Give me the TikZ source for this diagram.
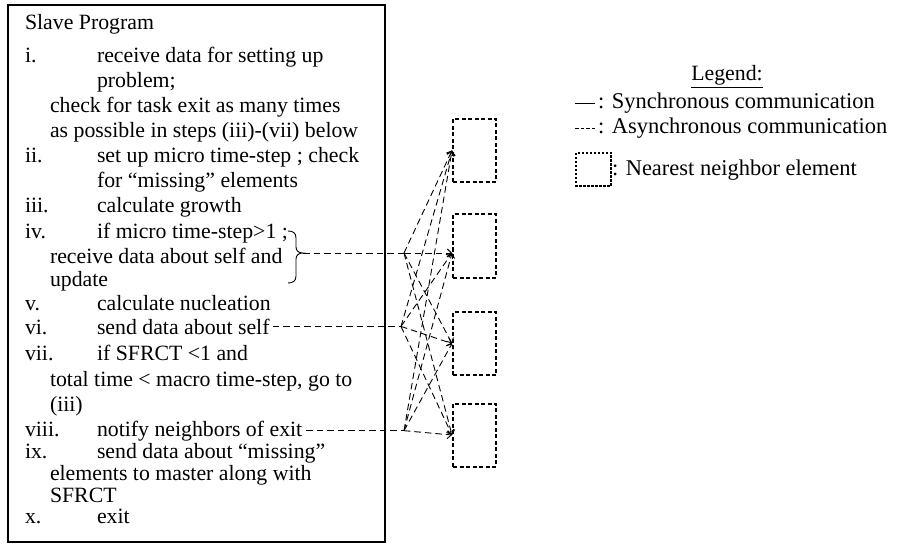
\documentclass[tikz,border=0pt]{standalone}
\usepackage{fontspec}
\setmainfont{Liberation Serif}
\usetikzlibrary{arrows.meta}
\begin{document}
\begin{tikzpicture}[x=1pt,y=-1pt,
  txt/.style={inner sep=0pt, outer sep=0pt, anchor=base west, font=\fontsize{21.8}{24}\selectfont},
  async/.style={line width=0.9pt, dash pattern=on 6.5pt off 4pt},
  link/.style={async, -{Straight Barb[length=4pt,width=8pt]}},
  nbox/.style={draw, line width=2pt, dash pattern=on 4pt off 2.5pt, minimum width=43pt, minimum height=63pt, inner sep=0pt},
  frame/.style={draw, line width=1.2pt}]
\useasboundingbox (0,0) rectangle (901,545);
\fill[white] (0,0) rectangle (901,545);
% frame
\draw[frame] (8,5) rectangle (385,542);
% title
\node[txt] (title) at (25,30) {Slave Program};
% item lines
\def\lx{25}\def\bx{97}\def\cx{50}
\node[txt] (l1) at (\lx,63) {i.};
\node[txt] (t1) at (\bx,63) {receive data for setting up};
\node[txt] (t2) at (\bx,88) {problem;};
\node[txt] (t3) at (\cx,113) {check for task exit as many times};
\node[txt] (t4) at (\cx,138) {as possible in steps (iii)-(vii) below};
\node[txt] (l5) at (\lx,163) {ii.};
\node[txt] (t5) at (\bx,163) {set up micro time-step ; check};
\node[txt] (t6) at (\bx,188) {for “missing” elements};
\node[txt] (l7) at (\lx,213) {iii.};
\node[txt] (t7) at (\bx,213) {calculate growth};
\node[txt] (l8) at (\lx,238) {iv.};
\node[txt] (t8) at (\bx,238) {if micro time-step>1 ;};
\node[txt] (t9) at (\cx,263) {receive data about self and};
\node[txt] (t10) at (\cx,286) {update};
\node[txt] (l11) at (\lx,310) {v.};
\node[txt] (t11) at (\bx,310) {calculate nucleation};
\node[txt] (l12) at (\lx,334) {vi.};
\node[txt] (t12) at (\bx,334) {send data about self};
\node[txt] (l13) at (\lx,360) {vii.};
\node[txt] (t13) at (\bx,360) {if SFRCT <1 and};
\node[txt] (t14) at (\cx,386) {total time < macro time-step, go to};
\node[txt] (t15) at (\cx,411) {(iii)};
\node[txt] (l16) at (\lx,436) {viii.};
\node[txt] (t16) at (\bx,436) {notify neighbors of exit};
\node[txt] (l17) at (\lx,458) {ix.};
\node[txt] (t17) at (\bx,458) {send data about “missing”};
\node[txt] (t18) at (\cx,480) {elements to master along with};
\node[txt] (t19) at (\cx,502) {SFRCT};
\node[txt] (l20) at (\lx,523) {x.};
\node[txt] (t20) at (\bx,523) {exit};
% brace
\draw[line width=0.9pt] (288,231) .. controls (293,231) and (296,233) .. (296,238)
  -- (296,247) .. controls (296,251) and (299,253) .. (303,253) coordinate (brtip)
  .. controls (299,253) and (296,255) .. (296,259)
  -- (296,276) .. controls (296,281) and (293,283) .. (288,283);
% neighbour boxes
\node[nbox] (n1) at (474.5,150.5) {};
\node[nbox] (n2) at (474.5,246) {};
\node[nbox] (n3) at (474.5,343.5) {};
\node[nbox] (n4) at (474.5,435) {};
% hubs
\coordinate (hx) at (404,0);
\coordinate (hxb) at (401,0);
\path (brtip -| hx) coordinate (hA);
\path (t12.east -| hxb) coordinate (hB);
\path (t16.east -| hx) coordinate (hC);
\path (hA -| n2.west) coordinate (p2);
% lines from text
\draw[async] (brtip) -- (hA);
\draw[async] ([xshift=3pt]t12.east) -- (hB);
\draw[async] ([xshift=4pt]t16.east) -- (hC);
% fan
\foreach \h in {hA,hB,hC}{
  \draw[link] (\h) -- (n1.west);
  \draw[link] (\h) -- (p2);
  \draw[link] (\h) -- (n3.west);
  \draw[link] (\h) -- (n4.west);
}
% legend
\node[txt, anchor=base] (leg) at (727,81) {\underline{Legend:}};
\coordinate (s1) at (575,103);
\coordinate (s2) at (595,103);
\draw[line width=0.9pt] (s1) -- (s2);
\node[txt, anchor=west, font=\fontsize{22.5}{24}\selectfont] (syn) at (598,103) {: Synchronous communication};
\coordinate (a1) at (575,128);
\coordinate (a2) at (595,128);
\draw[line width=0.9pt, dash pattern=on 3.5pt off 2pt] (a1) -- (a2);
\node[txt, anchor=west, font=\fontsize{22.5}{24}\selectfont] (asy) at (598,128) {: Asynchronous communication};
\draw[line width=2pt, dash pattern=on 2.5pt off 1.5pt] (576,153) rectangle (611,186);
\node[txt, anchor=west, font=\fontsize{22.5}{24}\selectfont] (nne) at (612,170) {: Nearest neighbor element};
\end{tikzpicture}
\end{document}
